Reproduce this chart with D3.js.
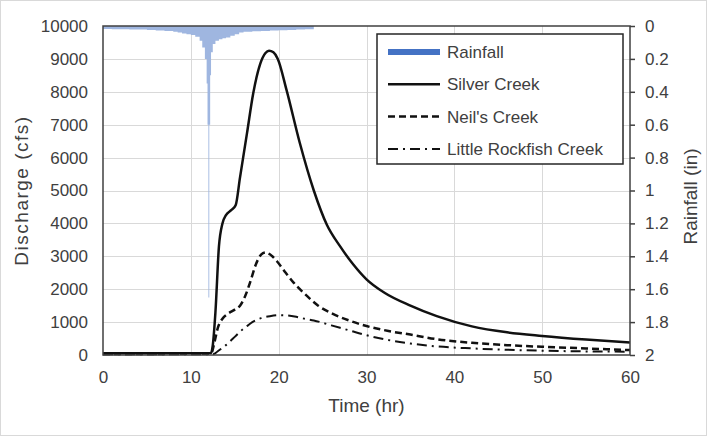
<!DOCTYPE html>
<html>
<head>
<meta charset="utf-8">
<script src="https://cdn.jsdelivr.net/npm/d3@7"></script>
<style>
  body { margin: 0; background: #fff; }
  text { font-family: Arial, "Liberation Sans", sans-serif; fill: #404040; }
</style>
</head>
<body>
<div id="chart"></div>
<script>
// rainfall hyetograph: interval edges (hr) and depth for each interval (in)
const rainTime = [0, 1, 2, 3, 4, 5, 6, 7, 8, 8.5, 9, 9.5, 10, 10.5, 11, 11.3, 11.6, 11.8, 11.9, 12.0,
  12.1, 12.2, 12.3, 12.5, 12.8, 13.2, 13.6, 14, 14.5, 15, 15.5, 16, 17, 18, 19, 20, 21, 22, 23, 24];
const rainDepth = [0.018, 0.02, 0.02, 0.022, 0.022, 0.025, 0.027, 0.03, 0.035, 0.04, 0.045, 0.05, 0.055, 0.065,
  0.09, 0.13, 0.2, 0.35, 0.6, 1.65, 0.6, 0.3, 0.16, 0.11, 0.09, 0.08, 0.075, 0.07, 0.06, 0.05, 0.04,
  0.035, 0.032, 0.03, 0.028, 0.026, 0.024, 0.022, 0.02];

const silverTime = [0, 12.3, 12.5, 12.8, 13.2, 13.6, 14.0, 14.6, 15.1, 15.6, 16.4, 17.1, 17.9, 18.5, 18.9, 19.4,
  19.9, 20.9, 22.4, 24, 25.5, 27, 28.5, 30, 32, 35, 38, 42, 46, 50, 55, 60];
const silverFlow = [50, 60, 300, 1300, 3300, 4000, 4250, 4400, 4550, 5400, 6750, 7950, 8850, 9180, 9250, 9200,
  9000, 8050, 6450, 5000, 3950, 3300, 2750, 2300, 1900, 1500, 1180, 870, 690, 580, 470, 380];

const neilTime = [0, 12.3, 12.7, 13.1, 13.6, 14.2, 15.0, 15.6, 16.2, 16.8, 17.4, 18.0, 18.5, 19.0, 19.8, 20.8,
  21.7, 23, 24.5, 26, 28, 30, 32.5, 35, 38, 42, 46, 50, 55, 60];
const neilFlow = [30, 40, 400, 850, 1100, 1250, 1380, 1500, 1800, 2250, 2750, 3050, 3120, 3060, 2850, 2500,
  2200, 1850, 1500, 1270, 1050, 880, 730, 620, 480, 370, 300, 250, 200, 150];

const rockTime = [0, 12.5, 13, 13.5, 14, 14.5, 15, 15.5, 16, 16.5, 17, 18, 19, 20, 21, 22, 23, 24, 26, 28, 30,
  32, 35, 38, 42, 46, 50, 55, 60];
const rockFlow = [20, 20, 100, 200, 300, 420, 550, 680, 800, 900, 1000, 1120, 1180, 1210, 1200, 1160, 1100,
  1050, 900, 750, 600, 480, 350, 260, 200, 160, 130, 110, 100];

const timeTicks = [0, 10, 20, 30, 40, 50, 60];
const flowTicks = [0, 1000, 2000, 3000, 4000, 5000, 6000, 7000, 8000, 9000, 10000];
const rainTicks = [0, 0.2, 0.4, 0.6, 0.8, 1, 1.2, 1.4, 1.6, 1.8, 2];

const seriesNames = ["Rainfall", "Silver Creek", "Neil's Creek", "Little Rockfish Creek"];

const width = 707;
const height = 436;
const margin = { top: 26, right: 77, bottom: 81, left: 103 };

const svg = d3.select("#chart")
  .append("svg")
  .attr("width", width)
  .attr("height", height);

// chart area border
svg.append("rect")
  .attr("x", 0.5).attr("y", 0.5)
  .attr("width", width - 1).attr("height", height - 1)
  .attr("fill", "#fff")
  .attr("stroke", "#d9d9d9");

const x = d3.scaleLinear()
  .domain([0, 60])
  .range([margin.left, width - margin.right]);

const y = d3.scaleLinear()
  .domain([0, 10000])
  .range([height - margin.bottom, margin.top]);

const yRain = d3.scaleLinear()
  .domain([0, 2])
  .range([margin.top, height - margin.bottom]);

// gridlines
svg.append("g")
  .attr("stroke", "#d9d9d9")
  .attr("stroke-width", 1)
  .selectAll("line.h")
  .data(flowTicks.slice(1, -1))
  .join("line")
    .attr("x1", x(0)).attr("x2", x(60))
    .attr("y1", d => Math.round(y(d)) + 0.5)
    .attr("y2", d => Math.round(y(d)) + 0.5);

svg.append("g")
  .attr("stroke", "#d9d9d9")
  .attr("stroke-width", 1)
  .selectAll("line")
  .data(timeTicks.slice(1, -1))
  .join("line")
    .attr("x1", d => Math.round(x(d)) + 0.5)
    .attr("x2", d => Math.round(x(d)) + 0.5)
    .attr("y1", y(0)).attr("y2", y(10000));

// rainfall hanging from the top, drawn as a stepped area
const rain = rainTime.map((t, i) => ({ t, depth: rainDepth[Math.min(i, rainDepth.length - 1)] }));

const rainArea = d3.area()
  .x(d => x(d.t))
  .y0(yRain(0))
  .y1(d => yRain(d.depth))
  .curve(d3.curveStepAfter);

svg.append("path")
  .datum(rain)
  .attr("fill", "#9fb6e0")
  .attr("d", rainArea);

// discharge lines
const line = d3.line()
  .x(d => x(d[0]))
  .y(d => y(d[1]))
  .curve(d3.curveMonotoneX);

const series = [
  { name: seriesNames[1], pts: d3.zip(silverTime, silverFlow), dash: null, w: 2.5 },
  { name: seriesNames[2], pts: d3.zip(neilTime, neilFlow), dash: "7,4", w: 2.5 },
  { name: seriesNames[3], pts: d3.zip(rockTime, rockFlow), dash: "10,5,2,5", w: 2 }
];

svg.append("g")
  .attr("fill", "none")
  .attr("stroke", "#111")
  .selectAll("path")
  .data(series)
  .join("path")
    .attr("d", d => line(d.pts))
    .attr("stroke-width", d => d.w)
    .attr("stroke-dasharray", d => d.dash);

// plot frame
svg.append("rect")
  .attr("x", x(0)).attr("y", y(10000))
  .attr("width", x(60) - x(0)).attr("height", y(0) - y(10000))
  .attr("fill", "none")
  .attr("stroke", "#404040")
  .attr("stroke-width", 1.5);

// axes
function xAxis(g) {
  g.attr("transform", `translate(0,${y(0)})`)
    .call(d3.axisBottom(x).tickValues(timeTicks).tickSize(0).tickPadding(16))
    .attr("font-size", "17px")
    .call(g => g.select(".domain").remove());
}

function yAxis(g) {
  g.attr("transform", `translate(${x(0) - 15},0)`)
    .call(d3.axisLeft(y).tickValues(flowTicks).tickSize(0).tickPadding(0).tickFormat(d3.format("d")))
    .attr("font-size", "17px")
    .call(g => g.select(".domain").remove());
}

function rainAxis(g) {
  g.attr("transform", `translate(${x(60)},0)`)
    .call(d3.axisRight(yRain).tickValues(rainTicks).tickSize(5).tickPadding(10).tickFormat(d => String(+d.toFixed(1))))
    .attr("font-size", "17px")
    .call(g => g.select(".domain").remove())
    .call(g => g.selectAll(".tick line").attr("stroke", "#404040").attr("stroke-width", 1.5));
}

svg.append("g").call(xAxis);
svg.append("g").call(yAxis);
svg.append("g").call(rainAxis);
svg.selectAll(".tick text").attr("fill", "#404040");

// axis titles
svg.append("text")
  .attr("x", (x(0) + x(60)) / 2)
  .attr("y", 412)
  .attr("text-anchor", "middle")
  .attr("font-size", "19px")
  .text("Time (hr)");

svg.append("text")
  .attr("transform", `translate(28,${(y(0) + y(10000)) / 2}) rotate(-90)`)
  .attr("text-anchor", "middle")
  .attr("font-size", "19px")
  .attr("letter-spacing", "1.5px")
  .text("Discharge (cfs)");

svg.append("text")
  .attr("transform", `translate(697,${(y(0) + y(10000)) / 2 + 6}) rotate(-90)`)
  .attr("text-anchor", "middle")
  .attr("font-size", "19px")
  .text("Rainfall (in)");

// legend
const legend = svg.append("g").attr("transform", "translate(377,34)");

legend.append("rect")
  .attr("width", 246).attr("height", 130)
  .attr("fill", "#fff")
  .attr("stroke", "#262626")
  .attr("stroke-width", 1.5);

const legendItems = [
  { name: seriesNames[0], color: "#4472c4", dash: null, w: 6 },
  ...series.map(s => ({ name: s.name, color: "#111", dash: s.dash, w: s.w }))
];

const row = legend.selectAll("g.item")
  .data(legendItems)
  .join("g")
    .attr("class", "item")
    .attr("transform", (d, i) => `translate(0,${18 + i * 32.3})`);

row.append("line")
  .attr("x1", 11).attr("x2", 63)
  .attr("stroke", d => d.color)
  .attr("stroke-width", d => d.w)
  .attr("stroke-dasharray", d => d.dash);

row.append("text")
  .attr("x", 70)
  .attr("dy", "0.35em")
  .attr("font-size", "17px")
  .text(d => d.name);
</script>
</body>
</html>
